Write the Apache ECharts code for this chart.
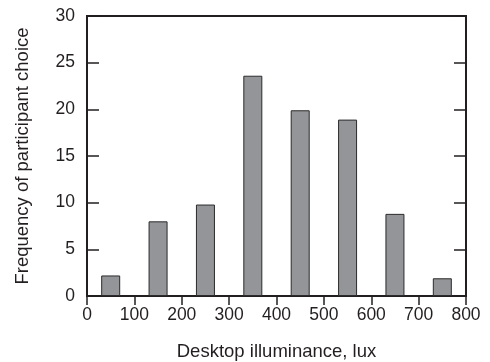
<!DOCTYPE html>
<html>
<head>
<meta charset="utf-8">
<script src="https://cdn.jsdelivr.net/npm/echarts@6/dist/echarts.min.js"></script>
<style>
  html, body { margin: 0; padding: 0; background: #fff; }
  #chart { width: 490px; height: 362px; }
</style>
</head>
<body>
<div id="chart"></div>
<script>
// bin centres (lux) and counts
const binCenters = [50, 150, 250, 350, 450, 550, 650, 750]
const frequency = [2.2, 8, 9.8, 23.6, 19.9, 18.9, 8.8, 1.9]
const xTicks = [0, 100, 200, 300, 400, 500, 600, 700, 800]
const yTicks = [0, 5, 10, 15, 20, 25, 30]

const ink = '#231f20'
const font = 'Liberation Sans, Arial, sans-serif'

const chart = echarts.init(document.getElementById('chart'), null, { renderer: 'canvas' })

chart.setOption({
  animation: false,
  grid: {
    left: 87,
    right: 24,
    top: 16,
    bottom: 66,
    outerBoundsMode: 'none',
    containLabel: false,
    show: true,
    borderColor: ink,
    borderWidth: 2,
    backgroundColor: 'transparent',
  },
  xAxis: {
    type: 'value',
    min: xTicks[0],
    max: xTicks[xTicks.length - 1],
    interval: 100,
    name: 'Desktop illuminance, lux',
    nameLocation: 'middle',
    nameGap: 46,
    nameTextStyle: { color: ink, fontFamily: font, fontSize: 18.5 },
    axisLine: { show: true, onZero: false, lineStyle: { color: ink, width: 2 } },
    axisTick: { show: true, inside: false, length: 9, lineStyle: { color: ink, width: 1.5 } },
    axisLabel: { color: ink, fontFamily: font, fontSize: 17.5, margin: 10 },
    splitLine: { show: false },
  },
  yAxis: [
    {
      type: 'value',
      min: yTicks[0],
      max: yTicks[yTicks.length - 1],
      interval: 5,
      name: 'Frequency of participant choice',
      nameLocation: 'middle',
      nameGap: 55,
      nameTextStyle: { color: ink, fontFamily: font, fontSize: 18.5 },
      axisLine: { show: true, lineStyle: { color: ink, width: 2 } },
      axisTick: { show: true, inside: true, length: 12, lineStyle: { color: ink, width: 1.5 } },
      axisLabel: { color: ink, fontFamily: font, fontSize: 17.5, margin: 12 },
      splitLine: { show: false },
    },
    {
      type: 'value',
      position: 'right',
      min: yTicks[0],
      max: yTicks[yTicks.length - 1],
      interval: 5,
      axisLine: { show: true, lineStyle: { color: ink, width: 2 } },
      axisTick: { show: true, inside: true, length: 12, lineStyle: { color: ink, width: 1.5 } },
      axisLabel: { show: false },
      splitLine: { show: false },
    },
  ],
  series: [
    {
      type: 'bar',
      data: binCenters.map((x, i) => [x, frequency[i]]),
      barWidth: 19,
      itemStyle: { color: '#939598', borderColor: '#2b2b2b', borderWidth: 1 },
      emphasis: { disabled: true },
    },
  ],
})
</script>
</body>
</html>
